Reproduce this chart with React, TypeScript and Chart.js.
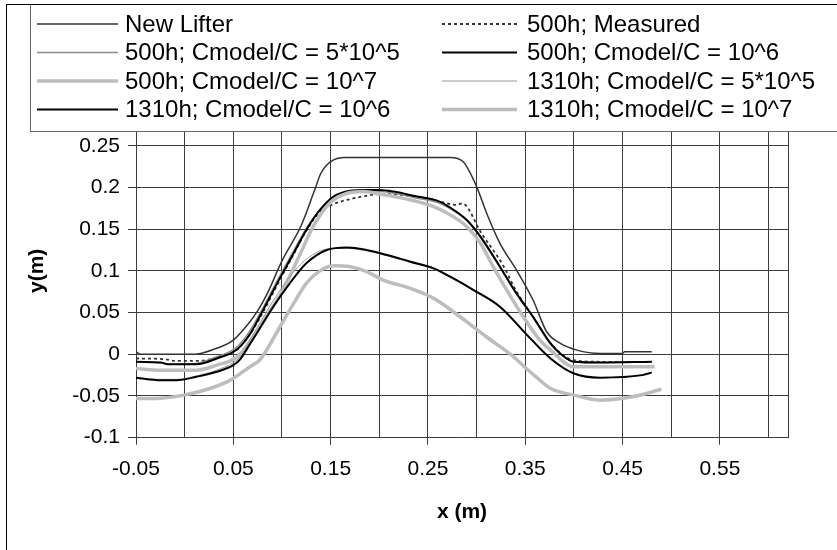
import React, { useEffect, useRef } from 'react';
import { Chart, registerables } from 'chart.js';

Chart.register(...registerables);

const FONT = '"Liberation Sans", Arial, sans-serif';

const seriesLabels = [
  'New Lifter',
  '500h; Measured',
  '500h; Cmodel/C = 5*10^5',
  '500h; Cmodel/C = 10^6',
  '500h; Cmodel/C = 10^7',
  '1310h; Cmodel/C = 5*10^5',
  '1310h; Cmodel/C = 10^6',
  '1310h; Cmodel/C = 10^7',
];

const xGridValues = [-0.05, 0, 0.05, 0.1, 0.15, 0.2, 0.25, 0.3, 0.35, 0.4, 0.45, 0.5, 0.55, 0.6, 0.62];
const xLabelValues = [-0.05, 0.05, 0.15, 0.25, 0.35, 0.45, 0.55];
const yTickValues = [-0.1, -0.05, 0, 0.05, 0.1, 0.15, 0.2, 0.25, 0.3];

const newLifterX = [-0.05, -0.045, 0.01, 0.03, 0.05, 0.065, 0.075, 0.085, 0.1, 0.12, 0.133, 0.14, 0.15, 0.165, 0.273, 0.286, 0.3, 0.31, 0.324, 0.341, 0.358, 0.372, 0.386, 0.403, 0.427, 0.45, 0.452, 0.48];
const newLifterY = [0.003, 0.0, 0.0, 0.006, 0.017, 0.036, 0.052, 0.073, 0.112, 0.155, 0.195, 0.217, 0.231, 0.236, 0.236, 0.231, 0.201, 0.17, 0.133, 0.101, 0.065, 0.027, 0.013, 0.005, 0.001, 0.001, 0.003, 0.003];

const measuredX = [-0.05, -0.02, -0.01, 0.012, 0.033, 0.054, 0.067, 0.077, 0.095, 0.112, 0.125, 0.139, 0.153, 0.17, 0.187, 0.2, 0.232, 0.256, 0.28, 0.285, 0.305, 0.328, 0.341, 0.358, 0.376, 0.4, 0.43, 0.48];
const measuredY = [-0.005, -0.006, -0.008, -0.008, -0.004, 0.006, 0.024, 0.043, 0.083, 0.12, 0.148, 0.171, 0.18, 0.186, 0.19, 0.192, 0.19, 0.185, 0.179, 0.181, 0.145, 0.105, 0.075, 0.045, 0.013, -0.007, -0.009, -0.009];

const h500c5X = [-0.05, -0.025, -0.015, 0.012, 0.033, 0.054, 0.067, 0.077, 0.095, 0.112, 0.125, 0.139, 0.153, 0.17, 0.185, 0.2, 0.215, 0.235, 0.262, 0.279, 0.29, 0.304, 0.324, 0.341, 0.358, 0.376, 0.386, 0.4, 0.427, 0.48];
const h500c5Y = [-0.009, -0.01, -0.012, -0.011, -0.003, 0.009, 0.028, 0.048, 0.088, 0.124, 0.151, 0.173, 0.187, 0.194, 0.195, 0.195, 0.193, 0.188, 0.181, 0.17, 0.16, 0.14, 0.104, 0.072, 0.044, 0.012, 0.0, -0.009, -0.01, -0.009];

const h500c6X = [-0.05, -0.025, -0.015, 0.012, 0.033, 0.054, 0.067, 0.077, 0.095, 0.112, 0.125, 0.139, 0.153, 0.17, 0.185, 0.2, 0.215, 0.235, 0.262, 0.279, 0.29, 0.304, 0.324, 0.341, 0.358, 0.376, 0.386, 0.4, 0.427, 0.48];
const h500c6Y = [-0.009, -0.01, -0.012, -0.012, -0.005, 0.006, 0.024, 0.045, 0.085, 0.121, 0.149, 0.173, 0.189, 0.196, 0.197, 0.197, 0.195, 0.19, 0.183, 0.171, 0.161, 0.141, 0.105, 0.073, 0.045, 0.013, 0.001, -0.009, -0.01, -0.009];

const h500c7X = [-0.05, -0.025, 0.012, 0.033, 0.054, 0.067, 0.084, 0.101, 0.119, 0.132, 0.149, 0.167, 0.184, 0.201, 0.232, 0.256, 0.276, 0.29, 0.304, 0.317, 0.331, 0.348, 0.365, 0.376, 0.4, 0.43, 0.483];
const h500c7Y = [-0.017, -0.019, -0.019, -0.013, -0.003, 0.015, 0.045, 0.077, 0.121, 0.153, 0.181, 0.193, 0.195, 0.192, 0.185, 0.177, 0.165, 0.153, 0.133, 0.105, 0.077, 0.045, 0.017, 0.005, -0.015, -0.015, -0.015];

const h1310c5X = [-0.05, -0.025, -0.008, 0.012, 0.033, 0.05, 0.057, 0.067, 0.074, 0.091, 0.108, 0.125, 0.146, 0.165, 0.187, 0.208, 0.232, 0.256, 0.273, 0.297, 0.324, 0.352, 0.376, 0.4, 0.427, 0.47, 0.48];
const h1310c5Y = [-0.028, -0.03, -0.03, -0.026, -0.019, -0.01, -0.003, 0.017, 0.031, 0.064, 0.093, 0.114, 0.126, 0.127, 0.124, 0.118, 0.11, 0.102, 0.092, 0.076, 0.056, 0.022, -0.006, -0.023, -0.028, -0.025, -0.022];

const h1310c6X = [-0.05, -0.025, -0.008, 0.012, 0.033, 0.05, 0.057, 0.067, 0.074, 0.091, 0.108, 0.125, 0.146, 0.167, 0.187, 0.208, 0.232, 0.256, 0.273, 0.297, 0.324, 0.352, 0.376, 0.4, 0.427, 0.47, 0.48];
const h1310c6Y = [-0.028, -0.031, -0.031, -0.027, -0.021, -0.013, -0.006, 0.012, 0.025, 0.057, 0.085, 0.109, 0.125, 0.128, 0.125, 0.119, 0.111, 0.103, 0.093, 0.077, 0.057, 0.023, -0.005, -0.023, -0.028, -0.025, -0.022];

const h1310c7X = [-0.05, -0.03, -0.001, 0.026, 0.047, 0.067, 0.077, 0.098, 0.112, 0.125, 0.139, 0.153, 0.17, 0.187, 0.204, 0.232, 0.256, 0.283, 0.31, 0.338, 0.352, 0.362, 0.376, 0.4, 0.427, 0.46, 0.49];
const h1310c7Y = [-0.053, -0.053, -0.049, -0.041, -0.031, -0.015, -0.007, 0.033, 0.061, 0.085, 0.1, 0.106, 0.105, 0.099, 0.089, 0.079, 0.067, 0.045, 0.021, -0.003, -0.018, -0.028, -0.041, -0.049, -0.055, -0.051, -0.042];

const seriesX = [newLifterX, measuredX, h500c5X, h500c6X, h500c7X, h1310c5X, h1310c6X, h1310c7X];
const seriesY = [newLifterY, measuredY, h500c5Y, h500c6Y, h500c7Y, h1310c5Y, h1310c6Y, h1310c7Y];

const seriesStyles = [
  { color: '#333333', width: 1.5, dash: [] as number[] },
  { color: '#333333', width: 1.8, dash: [3, 3] },
  { color: '#8c8c8c', width: 1.5, dash: [] as number[] },
  { color: '#000000', width: 2, dash: [] as number[] },
  { color: '#bdbdbd', width: 3.5, dash: [] as number[] },
  { color: '#9a9a9a', width: 1, dash: [] as number[] },
  { color: '#000000', width: 2, dash: [] as number[] },
  { color: '#bdbdbd', width: 3.5, dash: [] as number[] },
];

const isLabeled = (v: number) => xLabelValues.some((l) => Math.abs(l - v) < 1e-6);

const framePlugin = {
  id: 'frameLegend',
  afterDraw(chart: any) {
    const ctx = chart.ctx as CanvasRenderingContext2D;
    ctx.save();
    // legend box (covers top of plot area)
    ctx.fillStyle = '#ffffff';
    ctx.fillRect(30, 4, 900, 128);
    ctx.strokeStyle = '#666666';
    ctx.lineWidth = 1;
    ctx.strokeRect(30.5, 4.5, 900, 127);
    // outer chart border
    ctx.strokeStyle = '#000000';
    ctx.strokeRect(6.5, 4.5, 1000, 1000);
    // legend entries
    chart.data.datasets.forEach((ds: any, i: number) => {
      const col = i % 2;
      const row = Math.floor(i / 2);
      const y = 24 + row * 28.5;
      const x0 = col ? 442 : 37;
      const x1 = col ? 517 : 118;
      const tx = col ? 527 : 125;
      ctx.beginPath();
      ctx.setLineDash(ds.borderDash || []);
      ctx.lineWidth = ds.borderWidth;
      ctx.strokeStyle = ds.borderColor;
      ctx.moveTo(x0, y);
      ctx.lineTo(x1, y);
      ctx.stroke();
      ctx.setLineDash([]);
      ctx.fillStyle = '#000000';
      ctx.font = `24px ${FONT}`;
      ctx.textBaseline = 'middle';
      ctx.textAlign = 'left';
      ctx.fillText(ds.label, tx, y + 1);
    });
    ctx.restore();
  },
};

export default function App() {
  const canvasRef = useRef<HTMLCanvasElement | null>(null);

  useEffect(() => {
    if (!canvasRef.current) return;
    const datasets = seriesLabels.map((label, i) => ({
      label,
      data: seriesX[i].map((x, j) => ({ x, y: seriesY[i][j] })),
      borderColor: seriesStyles[i].color,
      borderWidth: seriesStyles[i].width,
      borderDash: seriesStyles[i].dash,
      pointRadius: 0,
      fill: false,
      cubicInterpolationMode: 'monotone' as const,
      order: seriesLabels.length - i,
    }));

    const chart = new Chart(canvasRef.current, {
      type: 'line',
      data: { datasets },
      plugins: [framePlugin],
      options: {
        animation: false,
        responsive: false,
        layout: { padding: { left: 0, top: 104, right: 49, bottom: 0 } },
        plugins: { legend: { display: false }, tooltip: { enabled: false } },
        scales: {
          x: {
            type: 'linear',
            min: -0.05,
            max: 0.62,
            afterBuildTicks: (scale: any) => {
              scale.ticks = xGridValues.map((v) => ({ value: v }));
            },
            afterFit: (scale: any) => {
              scale.height = 112.3;
            },
            ticks: {
              autoSkip: false,
              maxRotation: 0,
              minRotation: 0,
              color: '#000000',
              font: { family: FONT, size: 21 },
              padding: 12,
              callback: (v: any) => (isLabeled(Number(v)) ? Number(v).toFixed(2) : ''),
            },
            grid: {
              color: '#3c3c3c',
              lineWidth: 1,
              tickLength: 7,
              tickColor: (c: any) => (c.tick && isLabeled(c.tick.value) ? '#3c3c3c' : 'rgba(0,0,0,0)'),
            },
            border: { color: '#3c3c3c', width: 1 },
            title: {
              display: true,
              text: 'x (m)',
              color: '#000000',
              font: { family: FONT, size: 21, weight: 'bold' },
              padding: { top: 0, bottom: 25 },
            },
          },
          y: {
            type: 'linear',
            min: -0.1,
            max: 0.3,
            afterBuildTicks: (scale: any) => {
              scale.ticks = yTickValues.map((v) => ({ value: v }));
            },
            afterFit: (scale: any) => {
              scale.width = 136;
            },
            ticks: {
              autoSkip: false,
              color: '#000000',
              font: { family: FONT, size: 21 },
              padding: 8,
              callback: (v: any) => String(parseFloat(Number(v).toFixed(2))),
            },
            grid: { color: '#3c3c3c', lineWidth: 1, tickLength: 8, tickColor: '#3c3c3c' },
            border: { color: '#3c3c3c', width: 1 },
            title: {
              display: true,
              text: 'y(m)',
              color: '#000000',
              font: { family: FONT, size: 21, weight: 'bold' },
              padding: { top: 25, bottom: 0 },
            },
          },
        },
      },
    });
    return () => chart.destroy();
  }, []);

  return (
    <div style={{ position: 'absolute', left: 0, top: 0, width: 837, height: 550, background: '#ffffff' }}>
      <canvas ref={canvasRef} width={837} height={550} />
    </div>
  );
}
